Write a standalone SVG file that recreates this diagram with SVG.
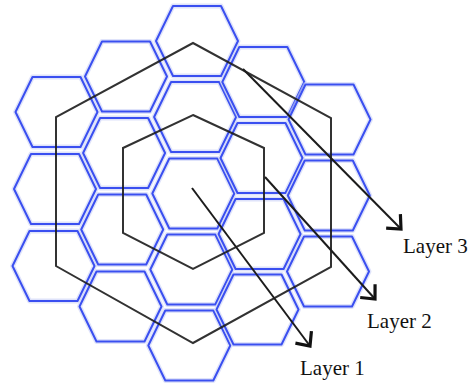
<svg xmlns="http://www.w3.org/2000/svg" xmlns:xlink="http://www.w3.org/1999/xlink" width="475" height="388" viewBox="0 0 475 388">
<style>
.halo{fill:none;stroke:#c9d0f7;stroke-width:5;stroke-linejoin:round;opacity:0.6}
.cell{fill:none;stroke:#3a4ff0;stroke-width:2;stroke-linejoin:round}
.layer{fill:none;stroke:#1c1c1c;stroke-width:2;stroke-linejoin:miter;opacity:0.9}
.arrow{fill:none;stroke:#1c1c1c;stroke-width:2;marker-end:url(#ah)}
.lbl{font-family:"Liberation Serif","Times New Roman",serif;font-size:21px;fill:#111}
</style>
<defs>
<polygon id="hx" points="-41,0 -24,-35 24,-35 41,0 24,35 -24,35"/>
<marker id="ah" viewBox="-14 -14 16 28" refX="0" refY="0" markerWidth="16" markerHeight="28" markerUnits="userSpaceOnUse" orient="auto" overflow="visible">
<path d="M-11,-10 L0,0 L-11,10" fill="none" stroke="#111" stroke-width="3.2" stroke-linejoin="miter"/>
</marker>
</defs>
<rect width="475" height="388" fill="#fff"/>
<g id="grid">
<g id="c-2r0"><use href="#hx" class="halo" x="56.5" y="112"/><use href="#hx" class="cell" x="56.5" y="112"/></g>
<g id="c-2r1"><use href="#hx" class="halo" x="55" y="189"/><use href="#hx" class="cell" x="55" y="189"/></g>
<g id="c-2r2"><use href="#hx" class="halo" x="53.5" y="266"/><use href="#hx" class="cell" x="53.5" y="266"/></g>
<g id="c-1r0"><use href="#hx" class="halo" x="126" y="76.5"/><use href="#hx" class="cell" x="126" y="76.5"/></g>
<g id="c-1r1"><use href="#hx" class="halo" x="124.1" y="153"/><use href="#hx" class="cell" x="124.1" y="153"/></g>
<g id="c-1r2"><use href="#hx" class="halo" x="122.2" y="229.5"/><use href="#hx" class="cell" x="122.2" y="229.5"/></g>
<g id="c-1r3"><use href="#hx" class="halo" x="120.5" y="306.5"/><use href="#hx" class="cell" x="120.5" y="306.5"/></g>
<g id="c0r0"><use href="#hx" class="halo" x="197" y="41"/><use href="#hx" class="cell" x="197" y="41"/></g>
<g id="c0r1"><use href="#hx" class="halo" x="195.1" y="117"/><use href="#hx" class="cell" x="195.1" y="117"/></g>
<g id="c0r2"><use href="#hx" class="halo" x="193.3" y="193.5"/><use href="#hx" class="cell" x="193.3" y="193.5"/></g>
<g id="c0r3"><use href="#hx" class="halo" x="191.3" y="269.5"/><use href="#hx" class="cell" x="191.3" y="269.5"/></g>
<g id="c0r4"><use href="#hx" class="halo" x="189.3" y="345.5"/><use href="#hx" class="cell" x="189.3" y="345.5"/></g>
<g id="c1r0"><use href="#hx" class="halo" x="263.3" y="82"/><use href="#hx" class="cell" x="263.3" y="82"/></g>
<g id="c1r1"><use href="#hx" class="halo" x="261.5" y="158"/><use href="#hx" class="cell" x="261.5" y="158"/></g>
<g id="c1r2"><use href="#hx" class="halo" x="259.6" y="234"/><use href="#hx" class="cell" x="259.6" y="234"/></g>
<g id="c1r3"><use href="#hx" class="halo" x="257.5" y="309.5"/><use href="#hx" class="cell" x="257.5" y="309.5"/></g>
<g id="c2r0"><use href="#hx" class="halo" x="329.5" y="119.5"/><use href="#hx" class="cell" x="329.5" y="119.5"/></g>
<g id="c2r1"><use href="#hx" class="halo" x="328.8" y="195.5"/><use href="#hx" class="cell" x="328.8" y="195.5"/></g>
<g id="c2r2"><use href="#hx" class="halo" x="328" y="271.5"/><use href="#hx" class="cell" x="328" y="271.5"/></g>
</g>
<g id="layer1-outline"><polygon class="layer" points="193,115 264,148 264,233 193,269 123,233 123,148"/></g>
<g id="layer2-outline"><polygon class="layer" points="193,43 331,118 331,267 193,343 56,266 56,117"/></g>
<g id="connectors">
<line class="arrow" x1="192" y1="188" x2="310" y2="346"/>
<line class="arrow" x1="265" y1="177" x2="375" y2="299"/>
<line class="arrow" x1="243" y1="69" x2="401" y2="229"/>
</g>
<g id="label-layer1"><text class="lbl" x="300" y="375">Layer 1</text></g>
<g id="label-layer2"><text class="lbl" x="367" y="328">Layer 2</text></g>
<g id="label-layer3"><text class="lbl" x="403" y="253">Layer 3</text></g>
</svg>
